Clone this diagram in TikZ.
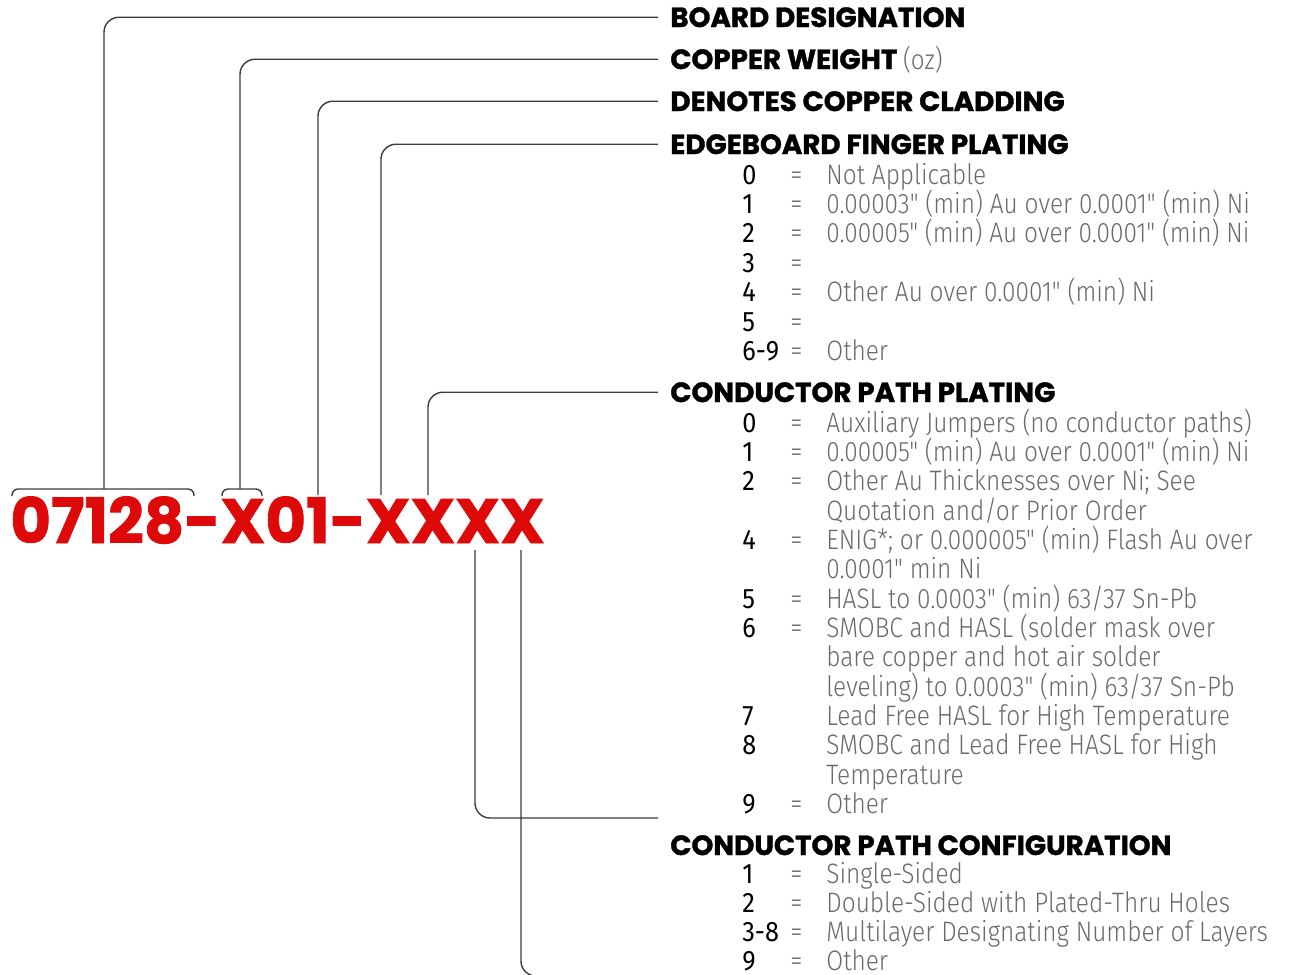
\documentclass[tikz,border=0pt]{standalone}
\usepackage{fontspec}
\setmainfont{Fira Sans Light}[FakeStretch=0.87,Ligatures=TeXOff]
\newfontfamily\numfont{Fira Sans}[FakeStretch=0.9]
\newfontfamily\headfont{Poppins}[BoldFeatures={FakeBold=1.3}]
\usetikzlibrary{positioning}
\definecolor{codered}{HTML}{DE0A0A}
\definecolor{descgray}{HTML}{6A6A6A}
\definecolor{leadgray}{HTML}{3C3C3C}

\begin{document}
\begin{tikzpicture}[x=0.02cm,y=-0.02cm,
  leader/.style={draw=leadgray,line width=0.8pt,rounded corners=8.5pt},
  bracket/.style={draw=leadgray,line width=0.8pt,rounded corners=3.5pt},
  heading/.style={anchor=base west,inner sep=0pt,font=\headfont\bfseries\fontsize{15.8}{18}\selectfont},
  num/.style={anchor=base west,inner sep=0pt,font=\numfont\fontsize{16}{18}\selectfont},
  eq/.style={anchor=base west,inner sep=0pt,text=descgray,font=\fontsize{16}{18}\selectfont},
  desc/.style={anchor=base west,inner sep=0pt,text=descgray,font=\fontsize{16}{18}\selectfont}]
\useasboundingbox (0,0) rectangle (1298,974);
\clip (0,0) rectangle (1298,974);
% ---------- part number ----------
\node[anchor=base west,inner sep=0pt,text=codered,font=\headfont\bfseries\fontsize{35.6}{40}\selectfont] (code) at (10,543) {07128-X01-XXXX};
% ---------- headings ----------
\node[heading] (hboard) at (670,27) {BOARD DESIGNATION};
\node[heading] (hweight) at (670,69) {COPPER WEIGHT {\mdseries\rmfamily\color{descgray}(oz)}};
\node[heading] (hclad) at (670,111) {DENOTES COPPER CLADDING};
\node[heading] (hedge) at (670,154) {EDGEBOARD FINGER PLATING};
\node[heading] (hplate) at (670,402) {CONDUCTOR PATH PLATING};
\node[heading] (hconf) at (670,855) {CONDUCTOR PATH CONFIGURATION};
% ---------- edgeboard finger plating ----------
\foreach \n/\e/\t [count=\i from 0] in {0/=/{Not Applicable},
    1/=/{0.00003" (min) Au over 0.0001" (min) Ni},
    2/=/{0.00005" (min) Au over 0.0001" (min) Ni},
    3/=/{},
    4/=/{Other Au over 0.0001" (min) Ni},
    5/=/{},
    6-9/=/{Other}}{
  \node[num] (fpn\i) at (742,{184+29.4*\i}) {\n};
  \node[eq] (fpe\i) at (790,{184+29.4*\i}) {\e};
  \node[desc] (fpd\i) at (826,{184+29.4*\i}) {\t};
}
% ---------- conductor path plating ----------
\foreach \n/\e/\t [count=\i from 0] in {0/=/{Auxiliary Jumpers (no conductor paths)},
    1/=/{0.00005" (min) Au over 0.0001" (min) Ni},
    2/=/{Other Au Thicknesses over Ni; See},
    {}/{}/{Quotation and/or Prior Order},
    4/=/{ENIG*; or 0.000005" (min) Flash Au over},
    {}/{}/{0.0001" min Ni},
    5/=/{HASL to 0.0003" (min) 63/37 Sn-Pb},
    6/=/{SMOBC and HASL (solder mask over},
    {}/{}/{bare copper and hot air solder},
    {}/{}/{leveling) to 0.0003" (min) 63/37 Sn-Pb},
    7/{}/{Lead Free HASL for High Temperature},
    8/{}/{SMOBC and Lead Free HASL for High},
    {}/{}/{Temperature},
    9/=/{Other}}{
  \node[num] (ppn\i) at (742,{432+29.35*\i}) {\n};
  \node[eq] (ppe\i) at (790,{432+29.35*\i}) {\e};
  \node[desc] (ppd\i) at (826,{432+29.35*\i}) {\t};
}
% ---------- conductor path configuration ----------
\foreach \n/\e/\t [count=\i from 0] in {1/=/{Single-Sided},
    2/=/{Double-Sided with Plated-Thru Holes},
    3-8/=/{Multilayer Designating Number of Layers},
    9/=/{Other}}{
  \node[num] (pcn\i) at (742,{883+29.3*\i}) {\n};
  \node[eq] (pce\i) at (790,{883+29.3*\i}) {\e};
  \node[desc] (pcd\i) at (826,{883+29.3*\i}) {\t};
}
% ---------- leader lines ----------
\coordinate (bboard) at (104,489);
\coordinate (bweight) at (240,489);
\coordinate (bclad) at (318,495);
\coordinate (bedge) at (381,495);
\coordinate (bplate) at (428,495);
\coordinate (tplate) at (475,550);
\coordinate (tconf) at (521,550);
\coordinate (eplate) at (658,818);
\coordinate (econf) at (700,976);
\draw[bracket] (12,496) -- (12,489) -- (194,489) -- (194,496);
\draw[bracket] (222,496) -- (222,489) -- (262,489) -- (262,496);
\draw[leader] ([xshift=-12*0.02cm]hboard.west) -| (bboard);
\draw[leader] ([xshift=-12*0.02cm]hweight.west) -| (bweight);
\draw[leader] ([xshift=-12*0.02cm]hclad.west) -| (bclad);
\draw[leader] ([xshift=-12*0.02cm]hedge.west) -| (bedge);
\draw[leader] ([xshift=-12*0.02cm]hplate.west) -| (bplate);
\draw[leader] (tplate) |- (eplate);
\draw[leader] (tconf) |- (econf);
\end{tikzpicture}
\end{document}
